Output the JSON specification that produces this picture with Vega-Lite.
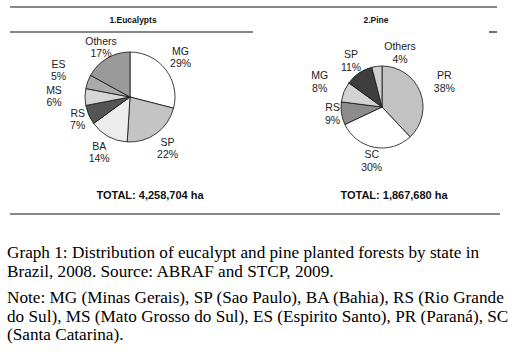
{
  "$schema": "https://vega.github.io/schema/vega-lite/v6.json",
  "padding": 0,
  "background": "white",
  "config": {"view": {"stroke": "transparent", "strokeWidth": 0}, "concat": {"spacing": 0}, "axis": {"disable": true, "domain": false, "ticks": false, "labels": false, "grid": false}},
  "datasets": {
    "shares": [
      {"chart": "Eucalypts", "state": "MG", "share": 29},
      {"chart": "Eucalypts", "state": "SP", "share": 22},
      {"chart": "Eucalypts", "state": "BA", "share": 14},
      {"chart": "Eucalypts", "state": "RS", "share": 7},
      {"chart": "Eucalypts", "state": "MS", "share": 6},
      {"chart": "Eucalypts", "state": "ES", "share": 5},
      {"chart": "Eucalypts", "state": "Others", "share": 17},
      {"chart": "Pine", "state": "PR", "share": 38},
      {"chart": "Pine", "state": "SC", "share": 30},
      {"chart": "Pine", "state": "RS", "share": 9},
      {"chart": "Pine", "state": "MG", "share": 8},
      {"chart": "Pine", "state": "SP", "share": 11},
      {"chart": "Pine", "state": "Others", "share": 4}
    ],
    "one": [{}]
  },
  "spacing": 0,
  "resolve": {"scale": {"x": "independent", "y": "independent", "color": "independent"}},
  "vconcat": [
    {
      "spacing": 0,
      "resolve": {"scale": {"x": "independent", "y": "independent", "color": "independent", "theta": "independent"}},
      "hconcat": [
        {
          "width": 260,
          "height": 222,
          "view": {"stroke": "transparent", "strokeWidth": 0},
          "layer": [
            {
              "data": {"name": "shares"},
              "transform": [
                {"filter": "datum.chart === 'Eucalypts'"},
                {"window": [{"op": "row_number", "as": "i"}]},
                {"calculate": "datum.state + '\\n' + datum.share + '%'", "as": "label"}
              ],
              "encoding": {
                "x": {"datum": 130, "type": "quantitative", "scale": {"domain": [0, 260], "nice": false, "zero": false}, "axis": null},
                "y": {"datum": 97, "type": "quantitative", "scale": {"domain": [222, 0], "nice": false, "zero": false}, "axis": null},
                "theta": {"field": "share", "type": "quantitative", "stack": true},
                "order": {"field": "i", "type": "quantitative"}
              },
              "layer": [
                {
                  "mark": {"type": "arc", "radius": 45, "stroke": "#111111", "strokeWidth": 0.8},
                  "encoding": {
                    "color": {"field": "state", "type": "nominal", "legend": null,
                      "scale": {"domain": ["MG", "SP", "BA", "RS", "MS", "ES", "Others"],
                                "range": ["#ffffff", "#c4c4c4", "#ececec", "#555555", "#d6d6d6", "#ababab", "#9a9a9a"]}}
                  }
                },
                {
                  "mark": {"type": "text", "radius": 64, "dy": -6, "lineBreak": "\n", "font": "Liberation Sans", "fontSize": 10.5, "lineHeight": 12, "color": "#222222", "align": "center", "baseline": "middle"},
                  "encoding": {
                    "text": {"field": "label"},
                    "detail": {"field": "state"},
                    "opacity": {"condition": {"test": "indexof(['MG','SP','BA'], datum.state) >= 0", "value": 1}, "value": 0}
                  }
                },
                {
                  "mark": {"type": "text", "radius": 57, "dy": -6, "lineBreak": "\n", "font": "Liberation Sans", "fontSize": 10.5, "lineHeight": 12, "color": "#222222", "align": "center", "baseline": "middle"},
                  "encoding": {
                    "text": {"field": "label"},
                    "detail": {"field": "state"},
                    "opacity": {"condition": {"test": "indexof(['RS','Others'], datum.state) >= 0", "value": 1}, "value": 0}
                  }
                },
                {
                  "mark": {"type": "text", "radius": 76, "dy": -6, "lineBreak": "\n", "font": "Liberation Sans", "fontSize": 10.5, "lineHeight": 12, "color": "#222222", "align": "center", "baseline": "middle"},
                  "encoding": {
                    "text": {"field": "label"},
                    "detail": {"field": "state"},
                    "opacity": {"condition": {"test": "indexof(['MS','ES'], datum.state) >= 0", "value": 1}, "value": 0}
                  }
                }
              ]
            },
            {
              "data": {"name": "one"},
              "mark": {"type": "rect", "color": "#111111", "strokeWidth": 0},
              "encoding": {"x": {"datum": 10, "axis": null}, "x2": {"datum": 260}, "y": {"datum": 6.4, "axis": null}, "y2": {"datum": 7.6}}
            },
            {
              "data": {"name": "one"},
              "mark": {"type": "rect", "color": "#111111", "strokeWidth": 0},
              "encoding": {"x": {"datum": 10, "axis": null}, "x2": {"datum": 253}, "y": {"datum": 31.4, "axis": null}, "y2": {"datum": 32.6}}
            },
            {
              "data": {"name": "one"},
              "mark": {"type": "rect", "color": "#111111", "strokeWidth": 0},
              "encoding": {"x": {"datum": 10, "axis": null}, "x2": {"datum": 260}, "y": {"datum": 213.4, "axis": null}, "y2": {"datum": 214.6}}
            },
            {
              "data": {"name": "one"},
              "mark": {"type": "text", "text": "1.Eucalypts", "font": "Liberation Sans", "fontSize": 8.5, "fontWeight": "bold", "color": "#111111", "align": "center", "baseline": "middle"},
              "encoding": {"x": {"datum": 133, "axis": null}, "y": {"datum": 20, "axis": null}}
            },
            {
              "data": {"name": "one"},
              "mark": {"type": "text", "text": "TOTAL: 4,258,704 ha", "font": "Liberation Sans", "fontSize": 11, "fontWeight": "bold", "color": "#111111", "align": "center", "baseline": "middle"},
              "encoding": {"x": {"datum": 150, "axis": null}, "y": {"datum": 196, "axis": null}}
            }
          ]
        },
        {
          "width": 262,
          "height": 222,
          "view": {"stroke": "transparent", "strokeWidth": 0},
          "layer": [
            {
              "data": {"name": "shares"},
              "transform": [
                {"filter": "datum.chart === 'Pine'"},
                {"window": [{"op": "row_number", "as": "i"}]},
                {"calculate": "datum.state + '\\n' + datum.share + '%'", "as": "label"}
              ],
              "encoding": {
                "x": {"datum": 122, "type": "quantitative", "scale": {"domain": [0, 262], "nice": false, "zero": false}, "axis": null},
                "y": {"datum": 107, "type": "quantitative", "scale": {"domain": [222, 0], "nice": false, "zero": false}, "axis": null},
                "theta": {"field": "share", "type": "quantitative", "stack": true},
                "order": {"field": "i", "type": "quantitative"}
              },
              "layer": [
                {
                  "mark": {"type": "arc", "radius": 41, "stroke": "#111111", "strokeWidth": 0.8},
                  "encoding": {
                    "color": {"field": "state", "type": "nominal", "legend": null,
                      "scale": {"domain": ["PR", "SC", "RS", "MG", "SP", "Others"],
                                "range": ["#c2c2c2", "#ffffff", "#8c8c8c", "#d3d3d3", "#3e3e3e", "#cfcfcf"]}}
                  }
                },
                {
                  "mark": {"type": "text", "radius": 67, "dy": -6.5, "lineBreak": "\n", "font": "Liberation Sans", "fontSize": 10.5, "lineHeight": 13, "color": "#222222", "align": "center", "baseline": "middle"},
                  "encoding": {
                    "text": {"field": "label"},
                    "detail": {"field": "state"},
                    "opacity": {"condition": {"test": "indexof(['PR','MG'], datum.state) >= 0", "value": 1}, "value": 0}
                  }
                },
                {
                  "mark": {"type": "text", "radius": 55, "dy": -6.5, "lineBreak": "\n", "font": "Liberation Sans", "fontSize": 10.5, "lineHeight": 13, "color": "#222222", "align": "center", "baseline": "middle"},
                  "encoding": {
                    "text": {"field": "label"},
                    "detail": {"field": "state"},
                    "opacity": {"condition": {"test": "indexof(['SC','SP'], datum.state) >= 0", "value": 1}, "value": 0}
                  }
                },
                {
                  "mark": {"type": "text", "radius": 50, "dy": -6.5, "lineBreak": "\n", "font": "Liberation Sans", "fontSize": 10.5, "lineHeight": 13, "color": "#222222", "align": "center", "baseline": "middle"},
                  "encoding": {
                    "text": {"field": "label"},
                    "detail": {"field": "state"},
                    "opacity": {"condition": {"test": "datum.state === 'RS'", "value": 1}, "value": 0}
                  }
                },
                {
                  "mark": {"type": "text", "radius": 56, "dx": 25, "dy": -4.5, "lineBreak": "\n", "font": "Liberation Sans", "fontSize": 10.5, "lineHeight": 13, "color": "#222222", "align": "center", "baseline": "middle"},
                  "encoding": {
                    "text": {"field": "label"},
                    "detail": {"field": "state"},
                    "opacity": {"condition": {"test": "datum.state === 'Others'", "value": 1}, "value": 0}
                  }
                }
              ]
            },
            {
              "data": {"name": "one"},
              "mark": {"type": "rect", "color": "#111111", "strokeWidth": 0},
              "encoding": {"x": {"datum": 0, "axis": null}, "x2": {"datum": 237}, "y": {"datum": 6.4, "axis": null}, "y2": {"datum": 7.6}}
            },
            {
              "data": {"name": "one"},
              "mark": {"type": "rect", "color": "#111111", "strokeWidth": 0},
              "encoding": {"x": {"datum": 229, "axis": null}, "x2": {"datum": 237}, "y": {"datum": 31.4, "axis": null}, "y2": {"datum": 32.6}}
            },
            {
              "data": {"name": "one"},
              "mark": {"type": "rect", "color": "#111111", "strokeWidth": 0},
              "encoding": {"x": {"datum": 0, "axis": null}, "x2": {"datum": 240}, "y": {"datum": 213.4, "axis": null}, "y2": {"datum": 214.6}}
            },
            {
              "data": {"name": "one"},
              "mark": {"type": "text", "text": "2.Pine", "font": "Liberation Sans", "fontSize": 8.5, "fontWeight": "bold", "color": "#111111", "align": "center", "baseline": "middle"},
              "encoding": {"x": {"datum": 116, "axis": null}, "y": {"datum": 20, "axis": null}}
            },
            {
              "data": {"name": "one"},
              "mark": {"type": "text", "text": "TOTAL: 1,867,680 ha", "font": "Liberation Sans", "fontSize": 11, "fontWeight": "bold", "color": "#111111", "align": "center", "baseline": "middle"},
              "encoding": {"x": {"datum": 134, "axis": null}, "y": {"datum": 196, "axis": null}}
            }
          ]
        }
      ]
    },
    {
      "width": 522,
      "height": 138,
      "view": {"stroke": "transparent", "strokeWidth": 0},
      "data": {"name": "one"},
      "encoding": {
        "x": {"datum": 7, "type": "quantitative", "scale": {"domain": [0, 522], "nice": false, "zero": false}, "axis": null}
      },
      "layer": [
        {
          "mark": {"type": "text", "text": ["Graph 1: Distribution of eucalypt and pine planted forests by state in", "Brazil, 2008. Source: ABRAF and STCP, 2009."], "font": "Liberation Serif", "fontSize": 17.2, "lineHeight": 18.5, "color": "#000000", "align": "left", "baseline": "alphabetic"},
          "encoding": {"y": {"datum": 36, "type": "quantitative", "scale": {"domain": [138, 0], "nice": false, "zero": false}, "axis": null}}
        },
        {
          "mark": {"type": "text", "text": ["Note: MG (Minas Gerais), SP (Sao Paulo), BA (Bahia), RS (Rio Grande", "do Sul), MS (Mato Grosso do Sul), ES (Espirito Santo), PR (Paraná), SC", "(Santa Catarina)."], "font": "Liberation Serif", "fontSize": 17.2, "lineHeight": 18.5, "color": "#000000", "align": "left", "baseline": "alphabetic"},
          "encoding": {"y": {"datum": 81, "axis": null}}
        }
      ]
    }
  ]
}
